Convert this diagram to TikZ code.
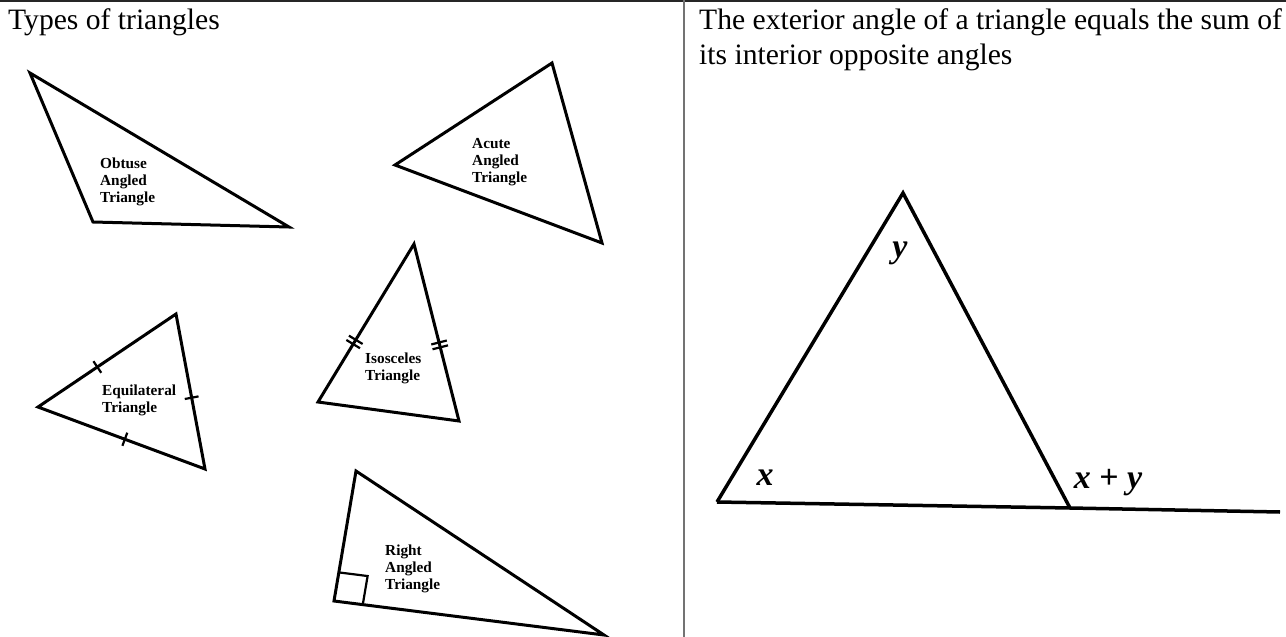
\documentclass[tikz,border=0pt]{standalone}
\usepackage{fontspec}
\setmainfont{Liberation Serif}
\usetikzlibrary{calc}

\begin{document}
\begin{tikzpicture}[
      x=1pt, y=-1pt,
      frame/.style={line width=2.5pt, black!85},
      divider/.style={line width=1.5pt, black!55},
      tri/.style={draw, line width=3pt, line join=miter},
      bigtri/.style={draw, line width=3.5pt, line join=miter},
      heading/.style={anchor=base west, inner sep=0pt, font=\fontsize{29.6}{35}\selectfont},
      kind/.style={anchor=north west, inner sep=0pt, align=left, font=\fontsize{15.3}{17}\selectfont\bfseries},
      ang/.style={anchor=base, inner sep=0pt, font=\fontsize{34}{40}\selectfont\bfseries\itshape},
      tick/.style={line width=2.2pt},
    ]

    \useasboundingbox (0,0) rectangle (1286,637);

    % table rules
    \coordinate (tl) at (0,1);
    \coordinate (tr) at (1286,1);
    \coordinate (mtop) at (684,0);
    \coordinate (mbot) at (684,637);
    \draw[frame] (tl) -- (tr);
    \draw[divider] (mtop) -- (mbot);

    % headings
    \node[heading] (hl) at (8,30) {Types of triangles};
    \node[heading] (hr1) at (699,29) {The exterior angle of a triangle equals the sum of};
    \node[heading] (hr2) at (699,64) {its interior opposite angles};

    % obtuse
    \coordinate (oa) at (30,73);
    \coordinate (ob) at (93,222);
    \coordinate (oc) at (289,227);
    \draw[tri] (oa) -- (ob) -- (oc) -- cycle;
    \node[kind] (olab) at (100,158) {Obtuse\\Angled\\Triangle};

    % acute
    \coordinate (aa) at (552,63);
    \coordinate (ab) at (395,165);
    \coordinate (ac) at (602,243);
    \draw[tri] (aa) -- (ab) -- (ac) -- cycle;
    \node[kind] (alab) at (472,138) {Acute\\Angled\\Triangle};

    % equilateral
    \coordinate (ea) at (176,314);
    \coordinate (eb) at (38,407);
    \coordinate (ec) at (205,469);
    \draw[tri] (ea) -- (eb) -- (ec) -- cycle;
    \node[kind] (elab) at (102,385) {Equilateral\\Triangle};

    % equal side marks
    \coordinate (e1) at ($(eb)!0.43!(ea)$);
    \coordinate (e2) at ($(ea)!0.54!(ec)$);
    \coordinate (e3) at ($(eb)!0.52!(ec)$);
    \draw[tick] ($(e1)!7pt!90:(ea)$) -- ($(e1)!7pt!-90:(ea)$);
    \draw[tick] ($(e2)!7pt!90:(ec)$) -- ($(e2)!7pt!-90:(ec)$);
    \draw[tick] ($(e3)!7pt!90:(ec)$) -- ($(e3)!7pt!-90:(ec)$);

    % isosceles
    \coordinate (ia) at (414,244);
    \coordinate (ib) at (318,402);
    \coordinate (ic) at (459,421);
    \draw[tri] (ia) -- (ib) -- (ic) -- cycle;
    \node[kind] (ilab) at (365,353) {Isosceles\\Triangle};

    % double marks on the two legs
    \coordinate (i1) at ($(ib)!0.38!(ia)$);
    \coordinate (i2) at ($(ia)!0.57!(ic)$);
    \foreach \s in {-2.5pt,2.5pt} {
      \coordinate (j1) at ($(i1)!\s!(ia)$);
      \coordinate (j2) at ($(i2)!\s!(ic)$);
      \draw[tick] ($(j1)!8pt!90:(ia)$) -- ($(j1)!8pt!-90:(ia)$);
      \draw[tick] ($(j2)!8pt!90:(ic)$) -- ($(j2)!8pt!-90:(ic)$);
    }

    % right angled
    \coordinate (ra) at (356,471);
    \coordinate (rb) at (334,601);
    \coordinate (rc) at (604,635);
    \draw[tri] (ra) -- (rb) -- (rc) -- cycle;
    \coordinate (r1) at ($(rb)!29pt!(ra)$);
    \coordinate (r2) at ($(rb)!29pt!(rc)$);
    \draw[tick] (r1) -- ($(r1)+(r2)-(rb)$) -- (r2);
    \node[kind] (rlab) at (385,545) {Right\\Angled\\Triangle};

    % exterior angle
    \coordinate (xa) at (903,193);
    \coordinate (xb) at (717,502);
    \coordinate (xc) at (1070,508);
    \coordinate (xend) at (1280,512);
    \draw[bigtri] (xb) -- (xa) -- (xc);
    \draw[bigtri] (xb) -- (xc) -- (xend);
    \node[ang] (ly) at (900,257) {y};
    \node[ang] (lx) at (765,485) {x};
    \node[ang] (lxy) at (1108,488) {x \textup{+} y};
  \end{tikzpicture}
\end{document}
